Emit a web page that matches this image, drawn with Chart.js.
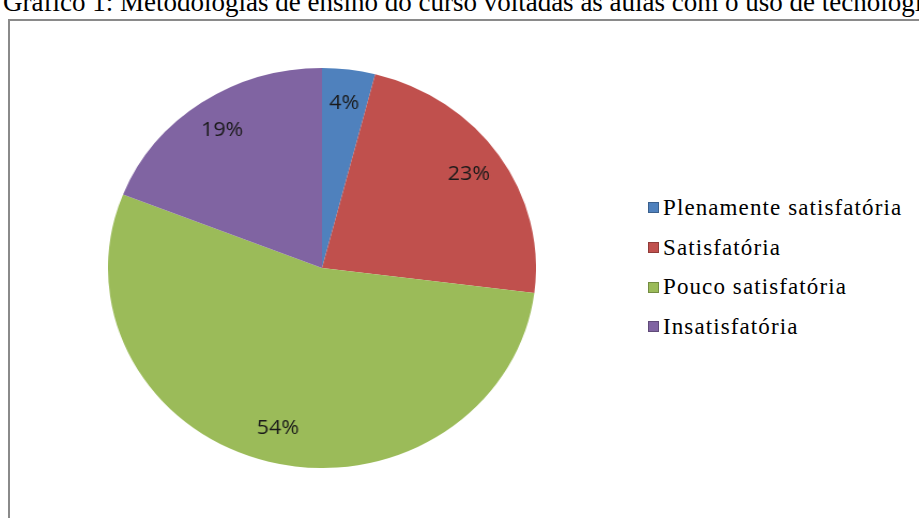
<!DOCTYPE html>
<html>
<head>
<meta charset="utf-8">
<script src="https://cdn.jsdelivr.net/npm/chart.js@4"></script>
<style>
  html, body { margin: 0; padding: 0; background: #fff; }
  body { width: 919px; height: 518px; position: relative; overflow: hidden; }
  #title {
    position: absolute; left: 3px; top: -11px; white-space: nowrap;
    font: 27px/1 "Liberation Serif", "Times New Roman", serif; color: #000;
  }
  #frame {
    position: absolute; left: 8px; top: 19px; width: 940px; height: 540px;
    border: 2px solid #8a8a8a; box-sizing: border-box;
  }
  #pie-wrap {
    position: absolute; left: 121.7px; top: 67.5px; width: 400px; height: 400px;
    transform: scaleX(1.07); transform-origin: 50% 50%;
  }
  #legend {
    position: absolute; left: 648px; top: 188px; margin: 0; padding: 0; list-style: none;
    font: 23px "Liberation Serif", "Times New Roman", serif; letter-spacing: 1.1px; color: #000;
  }
  #legend li { height: 39.7px; display: flex; align-items: center; }
  #legend .box { width: 11px; height: 11px; margin-right: 4px; box-sizing: border-box; border: 1px solid rgba(0,0,0,0.25); }
</style>
</head>
<body>
<div id="title">Gráfico 1: Metodologias de ensino do curso voltadas às aulas com o uso de tecnologia</div>
<div id="frame"></div>
<div id="pie-wrap"><canvas id="pie"></canvas></div>
<ul id="legend"></ul>
<script>
const categories = ["Plenamente satisfatória", "Satisfatória", "Pouco satisfatória", "Insatisfatória"];
const values = [4, 23, 54, 19];
const colors = ["#4F81BD", "#C0504D", "#9BBB59", "#8064A2"];

// percentage labels inside each slice
const sliceLabels = {
  id: "sliceLabels",
  afterDatasetsDraw(chart) {
    const { ctx } = chart;
    const arcs = chart.getDatasetMeta(0).data;
    ctx.save();
    ctx.font = '20px "Open Sans", "Liberation Sans", sans-serif';
    ctx.fillStyle = "#1a1a1a";
    ctx.textAlign = "center";
    ctx.textBaseline = "middle";
    arcs.forEach((arc, i) => {
      const { x, y, startAngle, endAngle, outerRadius } = arc.getProps(["x", "y", "startAngle", "endAngle", "outerRadius"], true);
      const mid = (startAngle + endAngle) / 2;
      const r = outerRadius * 0.83;
      ctx.fillText(`${values[i]}%`, x + Math.cos(mid) * r, y + Math.sin(mid) * r);
    });
    ctx.restore();
  },
};

new Chart(document.getElementById("pie"), {
  type: "pie",
  data: {
    labels: categories,
    datasets: [{ data: values, backgroundColor: colors, borderWidth: 0 }],
  },
  options: {
    responsive: true,
    maintainAspectRatio: false,
    animation: false,
    layout: { padding: 0 },
    plugins: { legend: { display: false }, tooltip: { enabled: false } },
  },
  plugins: [sliceLabels],
});

document.getElementById("legend").innerHTML = categories
  .map((name, i) => `<li><span class="box" style="background:${colors[i]}"></span>${name}</li>`)
  .join("");
</script>
</body>
</html>
